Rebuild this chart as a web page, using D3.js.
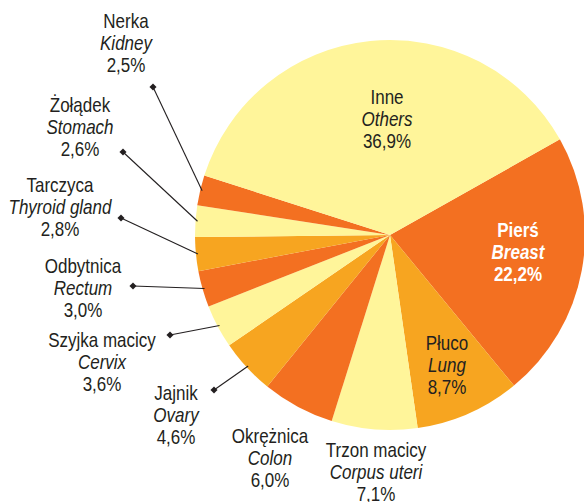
<!DOCTYPE html>
<html>
<head>
<meta charset="utf-8">
<script src="https://cdn.jsdelivr.net/npm/d3@7"></script>
<style>
  body { margin: 0; background: #fff; }
  svg text { font-family: "Liberation Sans", Arial, sans-serif; font-size: 17px; fill: #231f20; }
</style>
</head>
<body>
<svg id="wykres" width="584" height="502"></svg>
<script>
// dane - nowotwory, odsetek zachorowań
var nazwyPl = ["Pierś", "Płuco", "Trzon macicy", "Okrężnica", "Jajnik", "Szyjka macicy", "Odbytnica", "Tarczyca", "Żołądek", "Nerka", "Inne"]
var nazwyEn = ["Breast", "Lung", "Corpus uteri", "Colon", "Ovary", "Cervix", "Rectum", "Thyroid gland", "Stomach", "Kidney", "Others"]
var procenty = [22.2, 8.7, 7.1, 6.0, 4.6, 3.6, 3.0, 2.8, 2.6, 2.5, 36.9]

var barvy = ["#f37021", "#f7a520", "#fff59a", "#f37021", "#f7a520", "#fff59a", "#f37021", "#f7a520", "#fff59a", "#f37021", "#fff59a"]

// umístění popisků: [x, y prvního řádku, tečka x, tečka y]
var popisky = [
  [518, 237],
  [447, 350],
  [376, 457],
  [270, 443],
  [176, 400, 214, 390],
  [102, 347, 170, 335],
  [83, 273, 133, 286],
  [60, 192, 121, 218],
  [80, 112, 123, 152],
  [126, 28, 153, 87],
  [387, 104]
]

var Svg = d3.select("#wykres")
var cx = 390, cy = 235, r = 195
var g = Svg.append("g").attr("transform", "translate(" + cx + "," + cy + ")")

var start = 60.6 * Math.PI / 180
var pie = d3.pie().sort(null).value(function(d){ return d })
  .startAngle(start).endAngle(start + 2 * Math.PI)
var arc = d3.arc().innerRadius(0).outerRadius(r)
var arcs = pie(procenty)

g.selectAll("path.vysec").data(arcs).enter().append("path")
  .attr("class", "vysec")
  .attr("d", arc)
  .style("fill", function(d,i){ return barvy[i] })

// odkazové čáry
arcs.forEach(function(d, i) {
  var p = popisky[i]
  if (p[2] === undefined) return
  var a = (d.startAngle + d.endAngle) / 2
  var ex = cx + Math.sin(a) * (r - 2), ey = cy - Math.cos(a) * (r - 2)
  Svg.append("line")
    .attr("x1", p[2]).attr("y1", p[3]).attr("x2", ex).attr("y2", ey)
    .style("stroke", "#231f20").style("stroke-width", 1.1)
  Svg.append("rect")
    .attr("x", p[2] - 2.5).attr("y", p[3] - 2.5).attr("width", 5).attr("height", 5)
    .attr("transform", "rotate(45," + p[2] + "," + p[3] + ")")
    .style("fill", "#231f20")
})

// texty - písmo je úzké a vysoké, proto svislé natažení
var sy = 1.22
procenty.forEach(function(v, i) {
  var p = popisky[i]
  var bila = i === 0
  var t = Svg.append("text").attr("text-anchor", "middle")
    .attr("transform", "translate(" + p[0] + "," + p[1] + ") scale(1," + sy + ")")
    .style("fill", bila ? "#fff" : "#231f20")
    .style("font-weight", bila ? "bold" : "normal")
  t.append("tspan").attr("x", 0).attr("y", 0).text(nazwyPl[i])
  t.append("tspan").attr("x", 0).attr("y", 22 / sy).style("font-style", "italic").text(nazwyEn[i])
  t.append("tspan").attr("x", 0).attr("y", 44 / sy).text(v.toFixed(1).replace(".", ",") + "%")
})
</script>
</body>
</html>
